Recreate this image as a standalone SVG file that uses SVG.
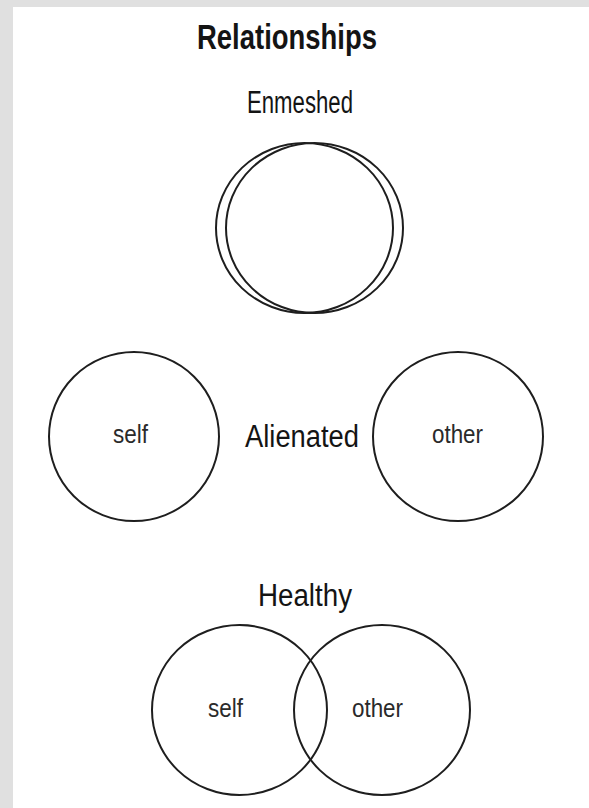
<svg xmlns="http://www.w3.org/2000/svg" width="589" height="808" viewBox="0 0 589 808">
  <style>
    .ring { fill: none; stroke: #1e1e1e; stroke-width: 2; }
    .t { font-family: "Liberation Sans Narrow", "Liberation Sans", Arial, sans-serif; fill: #141414; text-anchor: middle; }
    .title { font-size: 35px; font-weight: bold; }
    .head { font-size: 31px; }
    .lbl { font-size: 25px; fill: #2a2a2a; }
  </style>
  <rect x="0" y="0" width="589" height="808" fill="#e0e0e0"/>
  <rect x="13" y="7" width="576" height="801" fill="#ffffff"/>

  <g id="title">
    <text class="t title" x="287" y="49" textLength="180" lengthAdjust="spacingAndGlyphs">Relationships</text>
  </g>

  <g id="enmeshed">
    <text class="t head" x="300" y="113" textLength="106" lengthAdjust="spacingAndGlyphs">Enmeshed</text>
    <ellipse class="ring" cx="304.5" cy="228" rx="88.5" ry="85"/>
    <ellipse class="ring" cx="314.5" cy="228" rx="88.5" ry="85"/>
  </g>

  <g id="alienated">
    <text class="t head" x="302" y="447" textLength="114" lengthAdjust="spacingAndGlyphs">Alienated</text>
  </g>
  <g id="alienated-self">
    <ellipse class="ring" cx="134" cy="436.5" rx="85" ry="84.5"/>
    <text class="t lbl" x="130.5" y="443" textLength="35" lengthAdjust="spacingAndGlyphs">self</text>
  </g>
  <g id="alienated-other">
    <ellipse class="ring" cx="458" cy="436.5" rx="85" ry="84.5"/>
    <text class="t lbl" x="457.5" y="443" textLength="51" lengthAdjust="spacingAndGlyphs">other</text>
  </g>

  <g id="healthy">
    <text class="t head" x="305" y="606" textLength="94" lengthAdjust="spacingAndGlyphs">Healthy</text>
  </g>
  <g id="healthy-self">
    <ellipse class="ring" cx="239.5" cy="710" rx="87.5" ry="85"/>
    <text class="t lbl" x="225.5" y="717" textLength="35" lengthAdjust="spacingAndGlyphs">self</text>
  </g>
  <g id="healthy-other">
    <ellipse class="ring" cx="382" cy="710" rx="88" ry="85"/>
    <text class="t lbl" x="377.5" y="717" textLength="51" lengthAdjust="spacingAndGlyphs">other</text>
  </g>

  <g id="connectors"></g>
</svg>
